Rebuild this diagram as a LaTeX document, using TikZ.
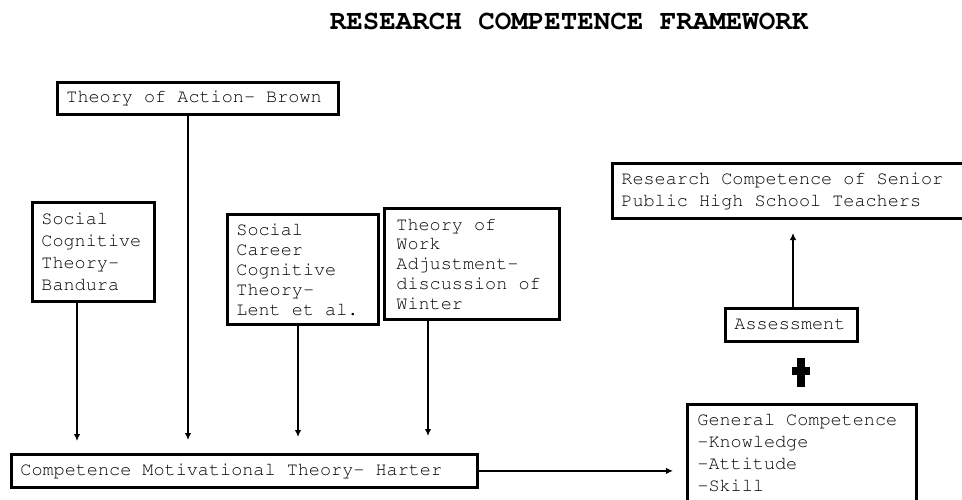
\documentclass[tikz,border=0pt]{standalone}
\usepackage[T1]{fontenc}
\usepackage{tikz}
\usetikzlibrary{arrows.meta, positioning}

\newcommand{\boxfont}[1]{\fontfamily{pcr}\fontsize{18.5}{#1}\selectfont}
\newcommand{\titlefont}{\fontfamily{pcr}\bfseries\fontsize{27.5}{30}\selectfont}

\begin{document}
\begin{tikzpicture}[
  x=1pt, y=-1pt,
  box/.style={rectangle, draw, line width=2.8pt, anchor=north west, align=left,
              inner xsep=9pt, inner ysep=0pt, font=\boxfont{#1},
              execute at begin node={\spaceskip 11.1pt\xspaceskip 11.1pt\relax}},
  box/.default=22,
  arr/.style={-{Latex[length=7pt, width=6.5pt]}, line width=1.3pt},
]
\useasboundingbox (0,0) rectangle (962,499);

\node[font=\titlefont] (title) at (569,22) {RESEARCH COMPETENCE FRAMEWORK};

\node[box, minimum width=281pt, minimum height=32pt, text width=263pt] (action) at (56,81) {Theory of Action- Brown};
\node[box=22.2, minimum width=122pt, minimum height=99pt, text width=104pt] (bandura) at (31,201) {Social\\Cognitive\\Theory-\\Bandura};
\node[box=20, minimum width=151pt, minimum height=110pt, text width=133pt] (lent) at (226,213) {Social\\Career\\Cognitive\\Theory-\\Lent et al.};
\node[box=19.7, inner xsep=12pt, minimum width=175pt, minimum height=111pt, text width=151pt] (winter) at (383,207) {Theory of\\Work\\Adjustment-\\discussion of\\Winter};
\node[box, minimum width=466pt, minimum height=33pt, text width=448pt] (harter) at (10,453) {Competence Motivational Theory- Harter};
\node[box=21.7, minimum width=355pt, minimum height=55pt, text width=337pt] (research) at (611,162) {Research Competence of Senior\\Public High School Teachers};
\node[box, minimum width=132pt, minimum height=33pt, text width=114pt] (assess) at (724,307) {Assessment};
\node[box, inner xsep=10pt, minimum width=229pt, minimum height=97pt, text width=209pt] (general) at (686,403) {General Competence\\-Knowledge\\-Attitude\\-Skill};

\coordinate (tipB) at (77,441);
\coordinate (tipA) at (188,440);
\coordinate (tipL) at (298,437);
\coordinate (tipW) at (428,436);
\coordinate (tipR) at (793,233);

\draw[arr] (bandura.south -| tipB) -- (tipB);
\draw[arr] (action.south -| tipA) -- (tipA);
\draw[arr] (lent.south -| tipL) -- (tipL);
\draw[arr] (winter.south -| tipW) -- (tipW);
\draw[arr, shorten >=13pt] (harter.east) -- (harter.east -| general.west);
\draw[arr] (assess.north -| tipR) -- (tipR);

\fill (797,358) rectangle (805,387);
\fill (792,367) rectangle (810,375);
\end{tikzpicture}
\end{document}
